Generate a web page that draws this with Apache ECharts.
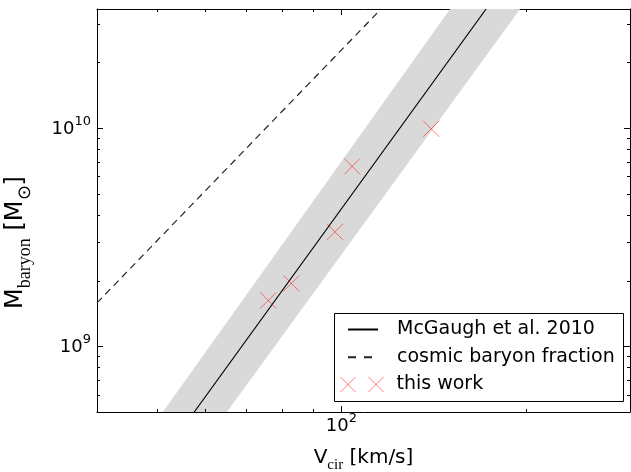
<!DOCTYPE html>
<html>
<head>
<meta charset="utf-8">
<script src="https://cdn.jsdelivr.net/npm/echarts@6.0.0/dist/echarts.min.js"></script>
<style>
    html, body { margin: 0; padding: 0; background: #fff; }
    #chart { width: 631px; height: 472px; }
</style>
</head>
<body>
<div id="chart"></div>
<script>
    // axis ranges (log-log)
    const xMin = 40, xMax = 295;
    const yMin = 5e8, yMax = 3.5e10;

    // McGaugh et al. 2010 relation (end points)
    const mcgaughV = [57.6, 172];
    const mcgaughM = [5e8, 3.5e10];

    // scatter band around it
    const bandUpperV = [51.2, 150.3];
    const bandUpperM = [5e8, 3.5e10];
    const bandLowerV = [65.1, 195.4];
    const bandLowerM = [5e8, 3.5e10];

    // cosmic baryon fraction
    const cosmicV = [40, 116];
    const cosmicM = [1.58e9, 3.5e10];

    // this work
    const workV = [76.0, 82.9, 97.6, 104.1, 140];
    const workM = [1.62e9, 1.94e9, 3.34e9, 6.66e9, 9.9e9];

    // minor tick positions
    const minorX = [50, 60, 70, 80, 90, 200];
    const minorY = [6e8, 7e8, 8e8, 9e8, 2e9, 3e9, 4e9, 5e9, 6e9, 7e9, 8e9, 9e9, 2e10, 3e10];

    const zip = (a, b) => a.map((v, i) => [v, b[i]]);

    const tickRich = {
        b: { fontFamily: 'DejaVu Sans', fontSize: 18, color: '#000', lineHeight: 20, padding: [18, 0, 0, 0], verticalAlign: 'bottom' },
        e: { fontFamily: 'DejaVu Sans', fontSize: 13, color: '#000', lineHeight: 14, padding: [0, 0, 10, 0], verticalAlign: 'bottom' }
    };
    const xNameRich = {
        a: { fontFamily: 'DejaVu Sans', fontSize: 20, color: '#000', lineHeight: 24, padding: [0, 0, 5, 0], verticalAlign: 'bottom' },
        s: { fontFamily: 'Liberation Serif', fontSize: 15, color: '#000', lineHeight: 16, verticalAlign: 'bottom' }
    };
    const yNameRich = {
        a: { fontFamily: 'DejaVu Sans', fontSize: 24, color: '#000', lineHeight: 28, padding: [0, 0, 6, 0], verticalAlign: 'bottom' },
        s: { fontFamily: 'Liberation Serif', fontSize: 18, color: '#000', lineHeight: 19, verticalAlign: 'bottom' }
    };
    function powLabel(value) {
        let e = Math.round(Math.log10(value));
        return '{b|10}{e|' + e + '}';
    }

    let axisLine = { show: true, onZero: false, lineStyle: { color: '#000', width: 1 } };
    let majorTick = { show: true, inside: true, length: 6, lineStyle: { color: '#000', width: 1 } };
    let noSymbol = { color: 'transparent', borderWidth: 0, opacity: 0 };

    let myChart = echarts.init(document.getElementById('chart'));
    let option = {
        animation: false,
        backgroundColor: '#fff',
        grid: { left: 97, right: 1, top: 9, bottom: 60, containLabel: false, outerBoundsMode: 'none' },
        xAxis: [
            {
                type: 'log', logBase: 10, position: 'bottom', min: xMin, max: xMax,
                axisLine: axisLine, axisTick: majorTick,
                axisLabel: { margin: 3, showMinLabel: false, showMaxLabel: false, formatter: powLabel, rich: tickRich },
                splitLine: { show: false },
                name: '{a|V}{s|cir}{a| [km/s]}', nameLocation: 'middle', nameGap: 37,
                nameTextStyle: { rich: xNameRich }
            },
            {
                type: 'log', logBase: 10, position: 'top', min: xMin, max: xMax,
                axisLine: axisLine, axisTick: majorTick, axisLabel: { show: false },
                splitLine: { show: false }
            }
        ],
        yAxis: [
            {
                type: 'log', logBase: 10, position: 'left', min: yMin, max: yMax,
                axisLine: axisLine, axisTick: majorTick,
                axisLabel: { margin: 6, showMinLabel: false, showMaxLabel: false, formatter: powLabel, rich: tickRich },
                splitLine: { show: false },
                name: '{a|M}{s|baryon}{a| [M}{s|⊙}{a|]}', nameLocation: 'middle', nameRotate: 90, nameGap: 63,
                nameTextStyle: { rich: yNameRich, padding: [0, 64, 0, 0] }
            },
            {
                type: 'log', logBase: 10, position: 'right', min: yMin, max: yMax,
                axisLine: axisLine, axisTick: majorTick, axisLabel: { show: false },
                splitLine: { show: false }
            }
        ],
        legend: [
            {
                data: [
                    { name: 'McGaugh et al. 2010', itemStyle: noSymbol },
                    { name: 'cosmic baryon fraction', itemStyle: noSymbol, lineStyle: { type: [8, 8] } }
                ],
                orient: 'vertical', left: 347, top: 318.5, padding: 0,
                itemWidth: 30, itemHeight: 14, itemGap: 5.7, selectedMode: false,
                textStyle: { fontFamily: 'DejaVu Sans', fontSize: 19, color: '#000', lineHeight: 22, padding: [0, 0, 0, 14] }
            },
            {
                data: [
                    {
                        name: 'this work',
                        icon: 'path://M0,0L15,15M15,0L0,15M28,0L43,15M43,0L28,15',
                        itemStyle: { color: 'transparent', borderColor: 'rgba(255,0,0,0.5)', borderWidth: 1 }
                    }
                ],
                orient: 'vertical', left: 340, top: 373.5, padding: 0,
                itemWidth: 43, itemHeight: 15, selectedMode: false,
                textStyle: { fontFamily: 'DejaVu Sans', fontSize: 19, color: '#000', lineHeight: 22, padding: [0, 0, 0, 8] }
            }
        ],
        series: [
            {
                name: 'band',
                type: 'custom',
                silent: true,
                z: 1,
                data: [[bandUpperV[0], bandUpperM[0]]],
                renderItem: function (params, api) {
                    let pts = zip(bandUpperV, bandUpperM).concat(zip(bandLowerV, bandLowerM).reverse());
                    return {
                        type: 'polygon',
                        shape: { points: pts.map(p => api.coord(p)) },
                        style: { fill: '#d9d9d9' }
                    };
                }
            },
            {
                name: 'McGaugh et al. 2010',
                type: 'line',
                data: zip(mcgaughV, mcgaughM),
                symbol: 'none',
                z: 3,
                lineStyle: { color: '#000', width: 1.2 },
                itemStyle: { color: '#000' }
            },
            {
                name: 'cosmic baryon fraction',
                type: 'line',
                data: zip(cosmicV, cosmicM),
                symbol: 'none',
                z: 3,
                lineStyle: { color: '#222', width: 1.2, type: [7, 5] },
                itemStyle: { color: '#222' }
            },
            {
                name: 'this work',
                type: 'scatter',
                data: zip(workV, workM),
                symbol: 'path://M0,0L1,1M1,0L0,1',
                symbolSize: 16,
                z: 4,
                itemStyle: { color: 'transparent', borderColor: 'rgba(255,0,0,0.5)', borderWidth: 1, opacity: 1 }
            }
        ]
    };
    myChart.setOption(option);

    // minor ticks on all four sides + legend frame
    let gx0 = myChart.convertToPixel({ xAxisIndex: 0 }, xMin);
    let gx1 = myChart.convertToPixel({ xAxisIndex: 0 }, xMax);
    let gy0 = myChart.convertToPixel({ yAxisIndex: 0 }, yMin);
    let gy1 = myChart.convertToPixel({ yAxisIndex: 0 }, yMax);
    let graphics = [];
    let tickStyle = { stroke: '#000', lineWidth: 1 };
    minorX.forEach(function (v) {
        let px = Math.round(myChart.convertToPixel({ xAxisIndex: 0 }, v)) + 0.5;
        graphics.push({ type: 'line', shape: { x1: px, y1: gy0, x2: px, y2: gy0 - 3 }, style: tickStyle, z: 10 });
        graphics.push({ type: 'line', shape: { x1: px, y1: gy1, x2: px, y2: gy1 + 3 }, style: tickStyle, z: 10 });
    });
    minorY.forEach(function (v) {
        let py = Math.round(myChart.convertToPixel({ yAxisIndex: 0 }, v)) + 0.5;
        graphics.push({ type: 'line', shape: { x1: gx0, y1: py, x2: gx0 + 3, y2: py }, style: tickStyle, z: 10 });
        graphics.push({ type: 'line', shape: { x1: gx1, y1: py, x2: gx1 - 3, y2: py }, style: tickStyle, z: 10 });
    });
    graphics.push({
        type: 'rect', z: 3,
        shape: { x: 334.5, y: 313.5, width: 289, height: 88 },
        style: { fill: '#fff', stroke: '#000', lineWidth: 1 }
    });
    myChart.setOption({ graphic: graphics });
</script>
</body>
</html>
